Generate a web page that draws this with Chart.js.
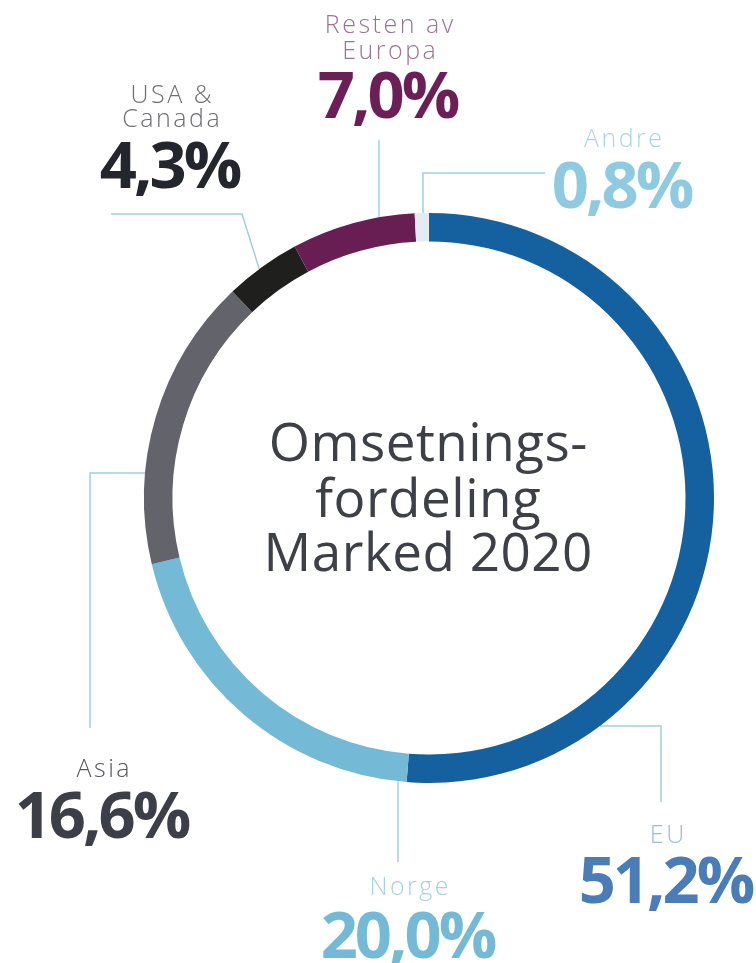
<!DOCTYPE html>
<html>
<head>
<meta charset="utf-8">
<script src="https://cdn.jsdelivr.net/npm/chart.js@4"></script>
<style>
  html, body { margin: 0; padding: 0; background: #fff; }
  #wrap { position: relative; width: 756px; height: 963px; overflow: hidden; font-family: "Open Sans", sans-serif; }
  #wrap canvas { position: absolute; left: 0; top: 0; }
  .t { position: absolute; white-space: nowrap; transform: translateX(-50%); }
</style>
</head>
<body>
<div id="wrap"><canvas id="ring" width="756" height="963"></canvas></div>
<script>
// DATA
const categories = [["EU"], ["Norge"], ["Asia"], ["USA &", "Canada"], ["Resten av", "Europa"], ["Andre"]];
const shares = [51.2, 20.0, 16.6, 4.3, 7.0, 0.8];
const titleLines = ["Omsetnings-", "fordeling", "Marked 2020"];

// STYLE
const ringColors = ["#15619f", "#74b9d6", "#62636b", "#1f201e", "#681e52", "#e3edf1"];
const nameColors = ["#9dbbd8", "#a5d3e5", "#55575c", "#6d6e72", "#9c7394", "#a9d6e6"];
const valueColors = ["#4a7cb8", "#74bad6", "#3c3f47", "#23262c", "#6b1f56", "#8fcbe0"];

// label layout: centre x, baselines of the name lines, baseline of the value
const labelPos = [
  { x: 667, names: [843], value: 903 },
  { x: 409, names: [895], value: 958 },
  { x: 103, names: [777], value: 838 },
  { x: 171, names: [103, 127], value: 188 },
  { x: 389, names: [33, 59], value: 118 },
  { x: 623, names: [147], value: 208 }
];

// leader lines: outer end first, last leg runs along dir until it meets the ring
const leaders = [
  { pts: [[661, 802], [661, 726]], dir: [-1, 0] },
  { pts: [[398, 862]], dir: [0, -1] },
  { pts: [[90, 728], [90, 473]], dir: [1, 0] },
  { pts: [[111, 214], [242, 214]], dir: [16, 51] },
  { pts: [[379, 140]], dir: [0, 1] },
  { pts: [[545, 173], [423, 173]], dir: [0, 1] }
];

// TEXT

const ASC = 1.069; // Open Sans ascent
const wrap = document.getElementById("wrap");

function addText(str, cx, base, size, weight, color, spacing) {
  const d = document.createElement("div");
  d.className = "t";
  d.textContent = str;
  d.style.left = (cx + spacing / 2) + "px";
  d.style.top = (base - ASC * size) + "px";
  d.style.fontSize = size + "px";
  d.style.lineHeight = (size * 1.362) + "px";
  d.style.fontWeight = weight;
  d.style.color = color;
  d.style.letterSpacing = spacing + "px";
  wrap.appendChild(d);
}

categories.forEach((lines, i) => {
  const p = labelPos[i];
  lines.forEach((line, k) => addText(line, p.x, p.names[k], 25, 300, nameColors[i], 2.5));
  const value = shares[i].toFixed(1).replace(".", ",") + "%";
  addText(value, p.x, p.value, 65, 700, valueColors[i], -3);
});

const titleBase = [462, 518, 572];
titleLines.forEach((line, k) => addText(line, 428, titleBase[k], 53, 400, "#3e4047", 0.5));

// LEADER LINES

const leaderPlugin = {
  id: "leaders",
  beforeDatasetsDraw(chart) {
    const arc = chart.getDatasetMeta(0).data[0];
    const { x: cx, y: cy, outerRadius: r } = arc.getProps(["x", "y", "outerRadius"], true);
    const ctx = chart.ctx;
    ctx.save();
    ctx.strokeStyle = "#9fd0e3";
    ctx.lineWidth = 1.5;
    leaders.forEach(l => {
      const last = l.pts[l.pts.length - 1];
      const len = Math.hypot(l.dir[0], l.dir[1]);
      const ux = l.dir[0] / len, uy = l.dir[1] / len;
      const fx = last[0] - cx, fy = last[1] - cy;
      const b = fx * ux + fy * uy;
      const c = fx * fx + fy * fy - r * r;
      const t = -b - Math.sqrt(Math.max(b * b - c, 0));
      ctx.beginPath();
      ctx.moveTo(l.pts[0][0], l.pts[0][1]);
      l.pts.slice(1).forEach(p => ctx.lineTo(p[0], p[1]));
      ctx.lineTo(last[0] + ux * t, last[1] + uy * t);
      ctx.stroke();
    });
    ctx.restore();
  }
};

// CHART

new Chart(document.getElementById("ring"), {
  type: "doughnut",
  data: {
    labels: categories,
    datasets: [{
      data: shares,
      backgroundColor: ringColors,
      borderWidth: 0,
      hoverOffset: 0
    }]
  },
  options: {
    responsive: false,
    animation: false,
    events: [],
    cutout: "90%",
    layout: { padding: { left: 144, right: 42, top: 213, bottom: 180 } },
    plugins: {
      legend: { display: false },
      tooltip: { enabled: false }
    }
  },
  plugins: [leaderPlugin]
});
</script>
</body>
</html>
